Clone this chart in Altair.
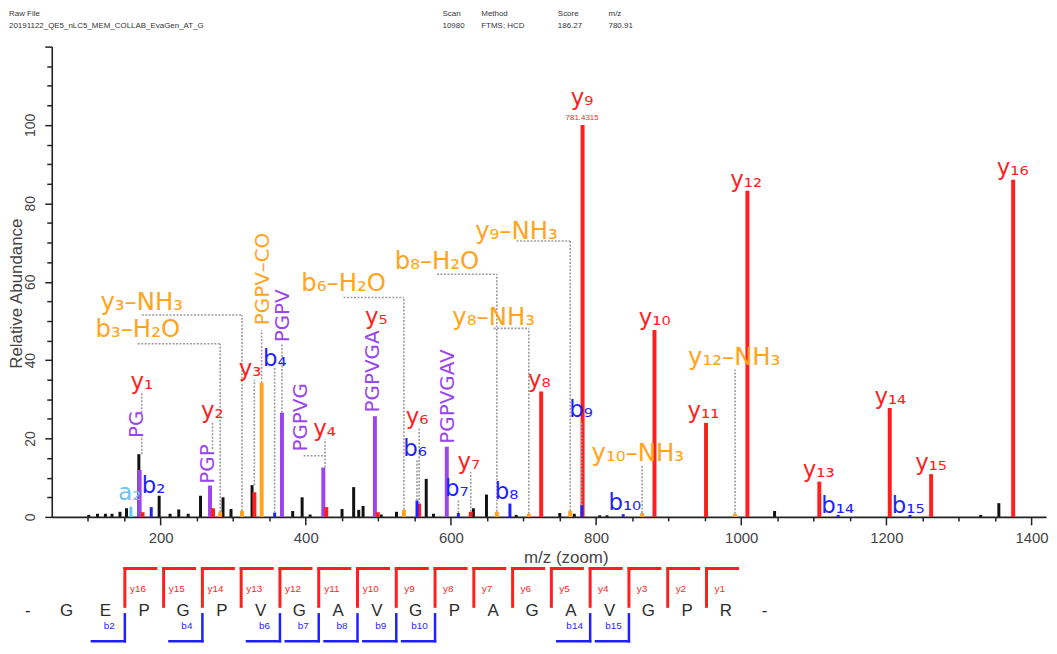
import altair as alt
import pandas as pd

# ---------------- header ----------------
header_titles = ["Raw File", "Scan", "Method", "Score", "m/z"]
header_values = ["20191122_QE5_nLC5_MEM_COLLAB_EvaGen_AT_G", "10980", "FTMS; HCD", "186.27", "780.91"]
header_x = [9, 445, 484, 561, 612]          # page x of each header column

# ---------------- spectrum peaks ----------------
other_mz = [101, 113, 124, 133, 144, 153, 170, 198, 213, 225, 238, 255, 286, 297, 326,
            382, 395, 406, 450, 466, 473, 479, 504, 525, 566, 576, 631, 649, 690, 750,
            770, 805, 815, 1046, 1330, 1355]
other_int = [0.5, 0.8, 0.8, 0.8, 1.3, 2.2, 16.0, 5.4, 0.8, 1.9, 0.8, 5.4, 5.0, 2.0, 8.1,
             1.5, 5.0, 0.6, 2.0, 7.6, 1.8, 2.8, 0.6, 1.3, 9.7, 0.8, 2.2, 5.7, 0.5, 1.0,
             0.8, 0.4, 0.4, 1.5, 0.5, 3.5]

y_names = ["y1", "y2", "y3", "y4", "y5", "y6", "y7", "y8", "y9", "y10", "y11", "y12",
           "y13", "y14", "y15", "y16"]
y_mz = [175.12, 272.17, 329.19, 428.26, 499.29, 556.31, 627.35, 724.40, 781.43, 880.50,
        951.54, 1008.56, 1107.63, 1204.68, 1261.70, 1374.75]
y_int = [1.2, 2.2, 6.3, 2.5, 1.2, 3.4, 1.3, 32.0, 100.0, 47.7, 24.0, 83.2, 9.0, 27.8, 10.9, 86.0]

b_names = ["b2", "b4", "b6", "b7", "b8", "b9", "b10", "b14", "b15"]
b_mz = [187.07, 357.14, 553.26, 610.28, 681.32, 780.39, 837.41, 1133.56, 1232.63]
b_int = [2.5, 1.1, 4.2, 1.0, 3.4, 3.0, 0.7, 0.5, 0.5]

a_names = ["a2"]
a_mz = [159.08]
a_int = [2.6]

loss_names = ["b3-H2O", "y3-NH3", "PGPV-CO", "b6-H2O", "b8-H2O", "y8-NH3", "y9-NH3",
              "y10-NH3", "y12-NH3"]
loss_mz = [282.10, 312.16, 339.20, 535.25, 663.31, 707.37, 764.40, 863.47, 991.53]
loss_int = [1.2, 1.5, 34.2, 1.8, 1.3, 0.8, 1.5, 1.0, 0.8]

internal_names = ["PG", "PGP", "PGPV", "PGPVG", "PGPVGA", "PGPVGAV"]
internal_mz = [171.08, 268.13, 367.20, 424.22, 495.26, 594.30]
internal_int = [12.0, 8.0, 26.6, 12.6, 25.7, 17.9]

precursor_label = "781.4315"

# ---------------- annotation anchors (data coordinates) ----------------
y_lab_mz = [174.0, 271.2, 323.3, 426.0, 497.3, 553.4, 624.7, 721.9, 780.8, 880.8, 947.9,
            1006.8, 1106.8, 1205.5, 1261.6, 1374.0]
y_lab_int = [34.3, 26.9, 37.8, 22.3, 51.0, 25.6, 14.0, 35.0, 106.9, 50.8, 26.9, 86.0,
             11.9, 30.5, 13.7, 89.1]
b_lab_mz = [190.4, 357.5, 550.7, 608.2, 676.7, 779.5, 839.7, 1132.9, 1230.1]
b_lab_int = [7.9, 40.4, 17.3, 7.1, 6.3, 27.2, 3.6, 2.8, 2.8]
a_lab_mz = [157.5]
a_lab_int = [6.1]
loss_lab_mz = [168.5, 174.0, 341.1, 452.1, 580.8, 658.9, 690.4, 857.5, 990.4]
loss_lab_int = [47.7, 54.6, 60.7, 59.4, 65.0, 50.8, 72.8, 16.0, 40.6]
loss_lab_vertical = [False, False, True, False, False, False, False, False, False]
internal_lab_mz = [167.1, 265.8, 368.5, 393.2, 493.2, 595.9]
internal_lab_int = [23.6, 13.5, 51.3, 25.4, 37.1, 30.7]
precursor_lab_mz = [780.8]
precursor_lab_int = [101.8]

# dotted leaders: vertical (m/z, from, to) and horizontal (level, from m/z, to m/z)
lead_v_mz = [312.16, 282.10, 535.25, 663.31, 707.37, 764.40, 863.47, 991.53, 339.20,
             329.19, 357.14, 367.20, 426.5, 174.0, 174.0, 271.5, 556.31, 553.26, 627.35,
             610.28, 780.0]
lead_v_lo = [1.5, 1.2, 1.8, 1.3, 0.8, 1.5, 1.0, 0.8, 34.2, 8.1, 1.1, 26.6, 12.6, 16.0,
             26.6, 17.3, 3.4, 4.2, 1.3, 1.0, 3.0]
lead_v_hi = [51.5, 44.2, 56.0, 61.9, 48.1, 70.4, 13.0, 37.6, 47.7, 35.0, 38.0, 44.4, 19.8,
             20.6, 31.7, 24.1, 23.0, 14.7, 11.4, 4.2, 24.4]
lead_h_lvl = [51.5, 44.2, 56.0, 61.9, 48.1, 70.4, 15.6]
lead_h_from = [174.0, 168.5, 452.1, 580.8, 658.9, 690.4, 397.0]
lead_h_to = [312.16, 282.10, 535.25, 663.31, 707.37, 764.40, 426.5]

# ---------------- sequence ----------------
sequence = list("GEPGPVGAVGPAGAVGPR")
seq_y_ions = list(range(1, 17))
seq_b_ions = [2, 4, 6, 7, 8, 9, 10, 14, 15]

# ---------------- styling ----------------
RED = "#ff1f1f"
BLUE = "#1f1fff"
LBLUE = "#6cc4ee"
ORANGE = "#ffa41c"
PURPLE = "#9b45ee"
BLACK = "#111111"
GREY = "#9c9c9c"
AXC = "#222222"
LABC = "#444444"
FONT = "DejaVu Sans"
AXFONT = "Liberation Sans"

SUB = str.maketrans("0123456789", "₀₁₂₃₄₅₆₇₈₉")


def pretty(name):
    return name.translate(SUB).replace("-", "–")


W, H = 1000, 473
xs = alt.Scale(domain=[50, 1420], nice=False, zero=False)
ys = alt.Scale(domain=[0, 120], nice=False, zero=False)

xaxis = alt.Axis(
    values=list(range(100, 1401, 50)), format="d",
    labelExpr="datum.value % 200 === 0 ? datum.label : ''",
    tickSize={"condition": {"test": "datum.value % 200 === 0", "value": 8}, "value": 4},
    labelOverlap=False, labelFlush=False, grid=False,
    domainColor=AXC, domainWidth=1.6, tickColor=AXC, tickWidth=1.5,
    labelColor=LABC, labelFont=AXFONT, labelFontSize=15, labelPadding=6,
    title="m/z (zoom)", titleFont=AXFONT, titleFontSize=17, titleFontWeight="normal",
    titleColor=LABC, titleX=517, titleY=41, titleBaseline="middle", titleAlign="center",
)
yaxis = alt.Axis(
    values=list(range(0, 121, 5)), format="d",
    labelExpr="(datum.value % 20 === 0 && datum.value <= 100) ? datum.label : ''",
    tickSize={"condition": {"test": "datum.value % 20 === 0", "value": 7}, "value": 5},
    labelOverlap=False, labelFlush=False, grid=False,
    domainColor=AXC, domainWidth=1.6, tickColor=AXC, tickWidth=1.5,
    labelColor=LABC, labelFont=AXFONT, labelFontSize=14, labelAngle=270,
    labelAlign="center", labelBaseline="bottom", labelPadding=7,
    title="Relative Abundance", titleFont=AXFONT, titleFontSize=17, titleFontWeight="normal",
    titleColor=LABC, titleAngle=270, titleX=-35, titleY=248, titleBaseline="middle",
    titleAlign="center",
)


def X(f):
    return alt.X(f, type="quantitative", scale=xs, axis=xaxis)


def Y(f):
    return alt.Y(f, type="quantitative", scale=ys, axis=yaxis)


def peaks(mzs, ints, color, width):
    df = pd.DataFrame({"mz": mzs, "inten": ints})
    return alt.Chart(df).mark_rule(color=color, strokeWidth=width).encode(
        x=X("mz"), y=Y("inten"), y2=alt.datum(0))


def labels(mzs, ints, texts, color, size, angle=0, font=FONT):
    df = pd.DataFrame({"mz": mzs, "yy": ints, "t": texts})
    return alt.Chart(df).mark_text(color=color, fontSize=size, font=font, angle=angle,
                                   align="center", baseline="middle").encode(
        x=X("mz"), y=Y("yy"), text="t:N")


main_layers = [
    peaks(other_mz, other_int, BLACK, 3),
    peaks(internal_mz, internal_int, PURPLE, 4),
    peaks(loss_mz, loss_int, ORANGE, 4),
    peaks(a_mz, a_int, LBLUE, 3),
    peaks(y_mz, y_int, RED, 4),
    peaks(b_mz, b_int, BLUE, 3),
]

lv = pd.DataFrame({"mz": lead_v_mz, "lo": lead_v_lo, "hi": lead_v_hi})
lh = pd.DataFrame({"lvl": lead_h_lvl, "a": lead_h_from, "b": lead_h_to})
main_layers.append(alt.Chart(lv).mark_rule(color=GREY, strokeWidth=1.6, strokeDash=[2, 1.5]).encode(
    x=X("mz"), y=Y("lo"), y2="hi:Q"))
main_layers.append(alt.Chart(lh).mark_rule(color=GREY, strokeWidth=1.6, strokeDash=[2, 1.5]).encode(
    x=X("a"), x2="b:Q", y=Y("lvl")))

main_layers.append(labels(y_lab_mz, y_lab_int, [pretty(n) for n in y_names], RED, 23))
main_layers.append(labels(b_lab_mz, b_lab_int, [pretty(n) for n in b_names], BLUE, 23))
main_layers.append(labels(a_lab_mz, a_lab_int, [pretty(n) for n in a_names], LBLUE, 23))
hz = [i for i, v in enumerate(loss_lab_vertical) if not v]
vt = [i for i, v in enumerate(loss_lab_vertical) if v]
main_layers.append(labels([loss_lab_mz[i] for i in hz], [loss_lab_int[i] for i in hz],
                          [pretty(loss_names[i]) for i in hz], ORANGE, 24.5))
main_layers.append(labels([loss_lab_mz[i] for i in vt], [loss_lab_int[i] for i in vt],
                          [pretty(loss_names[i]) for i in vt], ORANGE, 20, angle=270))
main_layers.append(labels(internal_lab_mz, internal_lab_int, internal_names, PURPLE, 20, angle=270))
main_layers.append(labels(precursor_lab_mz, precursor_lab_int, [precursor_label], RED, 8,
                          font=AXFONT))

# header (positions relative to the plot origin, which sits at page x 52)
for t, v, hx in zip(header_titles, header_values, header_x):
    hdf = pd.DataFrame({"t": [t + "\n" + v]})
    main_layers.append(alt.Chart(hdf).mark_text(
        align="left", baseline="top", lineBreak="\n", lineHeight=12, fontSize=8,
        font="Liberation Sans Narrow, Liberation Sans", color="#333333").encode(
        x=alt.value(hx - 52), y=alt.value(-37), text="t:N"))

main = alt.layer(*main_layers)

# ---------------- sequence panel ----------------
sx = alt.Scale(domain=[0.615, 26.256], nice=False, zero=False)
sy = alt.Scale(domain=[0, 1], range=[525, 598], nice=False, zero=False)


def SX(f):
    return alt.X(f, type="quantitative", scale=sx, axis=None)


def SYd(v):
    return alt.YDatum(v, type="quantitative", scale=sy, axis=None)


letters = pd.DataFrame({"pos": list(range(0, len(sequence) + 2)),
                        "aa": ["-"] + sequence + ["-"]})
ydf = pd.DataFrame({"n": seq_y_ions})
bdf = pd.DataFrame({"n": seq_b_ions})
L = len(sequence)

seq_layers = [
    # y-ion brackets
    alt.Chart(ydf).transform_calculate(pos=f"{L} - datum.n + 0.5").mark_rule(
        color=RED, strokeWidth=3, strokeCap="square").encode(
        x=SX("pos"), y=SYd(0), y2=alt.datum(0.52)),
    alt.Chart(ydf).transform_calculate(pos=f"{L} - datum.n + 0.5", end="datum.pos + 0.8").mark_rule(
        color=RED, strokeWidth=3, strokeCap="square").encode(
        x=SX("pos"), x2="end:Q", y=SYd(0)),
    alt.Chart(ydf).transform_calculate(lab="'y' + datum.n", p=f"{L} - datum.n + 0.5 + 0.34").mark_text(
        color=RED, fontSize=10, font=AXFONT, align="center", baseline="middle").encode(
        x=SX("p"), y=SYd(0.28), text="lab:N"),
    # b-ion brackets
    alt.Chart(bdf).transform_calculate(pos="datum.n + 0.5").mark_rule(
        color=BLUE, strokeWidth=2.5, strokeCap="square").encode(
        x=SX("pos"), y=SYd(0.63), y2=alt.datum(1.0)),
    alt.Chart(bdf).transform_calculate(pos="datum.n + 0.5", start="datum.pos - 0.85").mark_rule(
        color=BLUE, strokeWidth=2.5, strokeCap="square").encode(
        x=SX("start"), x2="pos:Q", y=SYd(1.0)),
    alt.Chart(bdf).transform_calculate(lab="'b' + datum.n", p="datum.n + 0.5 - 0.4").mark_text(
        color=BLUE, fontSize=10, font=AXFONT, align="center", baseline="middle").encode(
        x=SX("p"), y=SYd(0.79), text="lab:N"),
    # residues
    alt.Chart(letters).mark_text(color="#2b2b2b", fontSize=17, font=AXFONT, align="center",
                                 baseline="middle").encode(
        x=SX("pos"), y=SYd(0.59), text="aa:N"),
]
seq = alt.layer(*seq_layers)

chart = alt.layer(main, seq).resolve_scale(x="independent", y="independent").properties(
    width=W, height=H, padding=0, background="white"
).configure_view(stroke=None)

chart.save("out.html", embed_options={"renderer": "svg", "actions": False})
